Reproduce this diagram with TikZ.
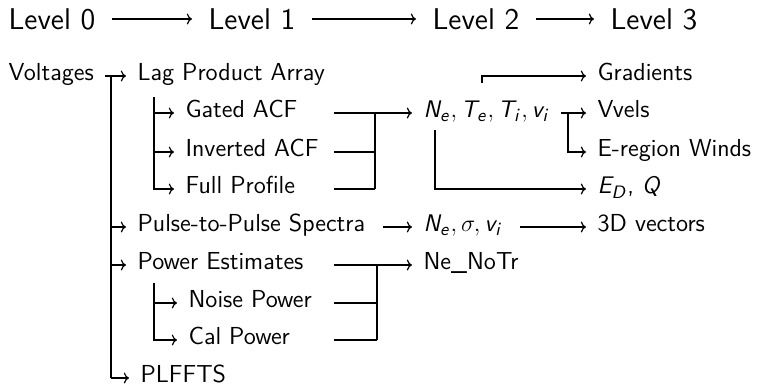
\documentclass[tikz,border=0pt]{standalone}
\usetikzlibrary{arrows.meta,calc}
\renewcommand{\familydefault}{\sfdefault}
\DeclareMathAlphabet{\mathsl}{OT1}{cmss}{m}{sl}
\tikzset{
  every picture/.style={line width=0.6pt},
  item/.style={anchor=west, inner sep=5.5pt, font=\fontsize{12.3}{15}\selectfont\sffamily, text height=1.5ex, text depth=0.4ex},
  level/.style={anchor=west, inner sep=8pt, font=\fontsize{15}{18}\selectfont\sffamily},
  flow/.style={-{To[length=2.6pt]}},
  trunk/.style={line width=0.9pt},
}

\begin{document}
\begin{tikzpicture}[x=0.5pt, y=-0.5pt]
\useasboundingbox (0,0) rectangle (759,387);
% levels
\node[level] (lvl0) at (-8,19) {Level 0};
\node[level] (lvl1) at (192,19) {Level 1};
\node[level] (lvl2) at (416,19) {Level 2};
\node[level] (lvl3) at (594,19) {Level 3};
\draw[flow] (lvl0.east) -- (lvl1.west);
\draw[flow] (lvl1.east) -- (lvl2.west);
\draw[flow] (lvl2.east) -- (lvl3.west);
% level 0 and 1
\node[item] (volt) at (-3,76) {Voltages};
\node[item] (lpa) at (126,76) {Lag Product Array};
\node[item] (gacf) at (174,113) {Gated ACF};
\node[item] (iacf) at (174,152) {Inverted ACF};
\node[item] (fprof) at (174,189) {Full Profile};
\node[item] (pps) at (126,227) {Pulse-to-Pulse Spectra};
\node[item] (pest) at (126,265) {Power Estimates};
\node[item] (noise) at (177,303) {Noise Power};
\node[item] (cal) at (177,340) {Cal Power};
\node[item] (plf) at (129,378) {PLFFTS};
% level 2 and 3
\node[item] (fit) at (412,113) {$\mathsl{N_e},\mathsl{T_e},\mathsl{T_i},\mathsl{v_i}$};
\node[item] (spec) at (412,227) {$\mathsl{N_e},\sigma,\mathsl{v_i}$};
\node[item] (nent) at (412,265) {Ne\_NoTr};
\node[item] (grad) at (586,76) {Gradients};
\node[item] (vvel) at (586,113) {Vvels};
\node[item] (ewind) at (586,152) {E-region Winds};
\node[item] (edq) at (586,189) {$\mathsl{E_D}$, $\mathsl{Q}$};
\node[item] (vec) at (586,227) {3D vectors};
% junctions
\coordinate (vjoin) at (111,76);
\coordinate (ljoin) at (154,97);
\coordinate (pjoin) at (154,283);
\coordinate (acfin) at (334,113);
\coordinate (acfbus) at (375,113);
\coordinate (pwrin) at (334,265);
\coordinate (pwrbus) at (377,265);
\coordinate (wjoin) at (568,113);
\coordinate (ejoin) at (435,130);
\coordinate (gstub) at (482,83);
% voltages trunk
\draw[flow] (volt.east) -- (lpa.west);
\draw[trunk] (vjoin) -- (vjoin |- plf.west);
\draw[flow] (vjoin |- plf.west) -- (plf.west);
\foreach \n in {pps,pest} \draw[flow] (vjoin |- \n.west) -- (\n.west);
% lag products
\draw[flow] (ljoin) |- (fprof.west);
\foreach \n in {gacf,iacf} \draw[flow] (ljoin |- \n.west) -- (\n.west);
\foreach \n in {gacf,iacf,fprof} \draw (acfin |- \n.west) -- (acfbus |- \n.west);
\draw (acfbus) -- (acfbus |- fprof.west);
\draw[flow] (acfbus) -- (fit.west);
% power
\draw[flow] (pjoin) |- (cal.west);
\draw[flow] (pjoin |- noise.west) -- (noise.west);
\foreach \n in {pest,noise,cal} \draw (pwrin |- \n.west) -- (pwrbus |- \n.west);
\draw (pwrbus) -- (pwrbus |- cal.west);
\draw[flow] (pwrbus) -- (nent.west);
% spectra
\draw[flow, shorten <=3pt] (pps.east) -- (spec.west);
\draw[flow, shorten <=3pt] (spec.east) -- (vec.west);
% fitted parameters
\draw[flow] (fit.east) -- (vvel.west);
\draw[flow] (wjoin) |- (ewind.west);
\draw[flow] (ejoin) |- (edq.west);
\draw[flow] (gstub) |- (grad.west);
\end{tikzpicture}
\end{document}
